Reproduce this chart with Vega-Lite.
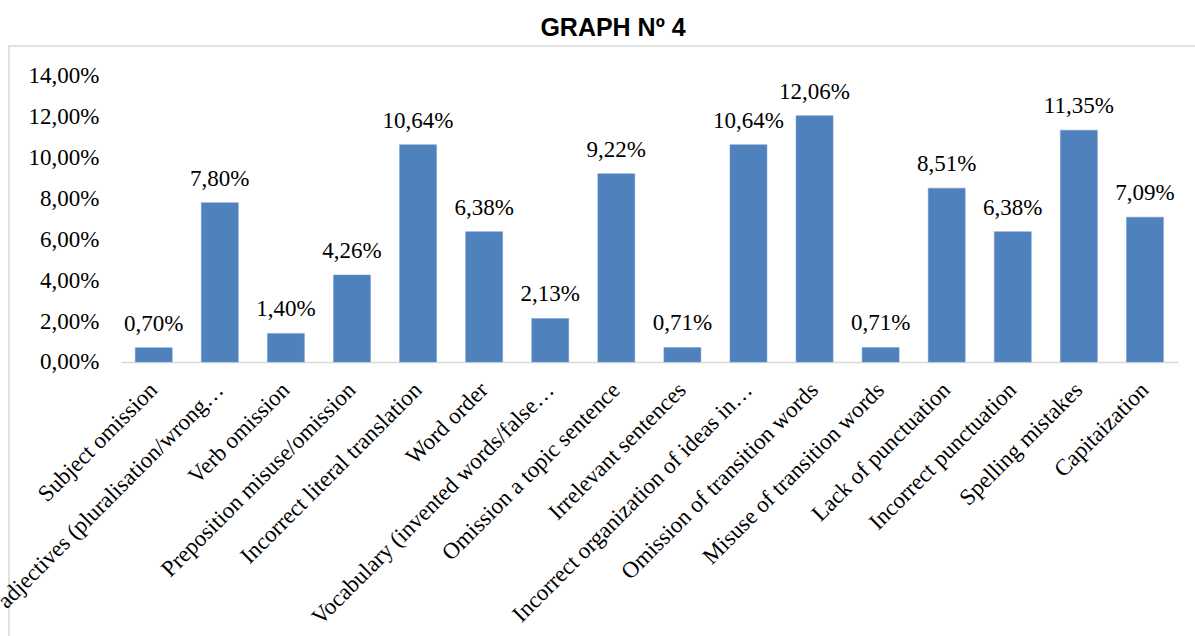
{
  "$schema": "https://vega.github.io/schema/vega-lite/v6.json",
  "autosize": {"type": "none"},
  "padding": {"left": 9, "top": 46, "right": -6, "bottom": -40},
  "width": 1192,
  "height": 630,
  "title": {
    "text": "GRAPH Nº 4",
    "font": "Liberation Sans",
    "fontSize": 25,
    "fontWeight": "bold",
    "color": "#000000",
    "anchor": "middle",
    "baseline": "alphabetic",
    "offset": -15,
    "dx": 8
  },
  "config": {
    "locale": {
      "number": {"decimal": ",", "thousands": ".", "grouping": [3], "currency": ["", " €"]}
    },
    "view": {"stroke": "#d9d9d9", "strokeWidth": 1.5},
    "font": "Liberation Serif"
  },
  "data": {
    "values": [
      {"category": "Subject omission", "share": 0.0070},
      {"category": "adjectives (pluralisation/wrong…", "share": 0.0780},
      {"category": "Verb omission", "share": 0.0140},
      {"category": "Preposition misuse/omission", "share": 0.0426},
      {"category": "Incorrect literal translation", "share": 0.1064},
      {"category": "Word order", "share": 0.0638},
      {"category": "Vocabulary (invented words/false…", "share": 0.0213},
      {"category": "Omission a topic sentence", "share": 0.0922},
      {"category": "Irrelevant sentences", "share": 0.0071},
      {"category": "Incorrect organization of ideas in…", "share": 0.1064},
      {"category": "Omission of transition words", "share": 0.1206},
      {"category": "Misuse of transition words", "share": 0.0071},
      {"category": "Lack of punctuation", "share": 0.0851},
      {"category": "Incorrect punctuation", "share": 0.0638},
      {"category": "Spelling mistakes", "share": 0.1135},
      {"category": "Capitaization", "share": 0.0709}
    ]
  },
  "encoding": {
    "x": {
      "field": "category",
      "type": "nominal",
      "sort": null,
      "title": null,
      "scale": {"paddingInner": 0.44, "range": [111.7, 1169]},
      "axis": {
        "offset": -314,
        "labelAngle": -45,
        "labelAlign": "right",
        "labelBaseline": "middle",
        "labelFont": "Liberation Serif",
        "labelFontSize": 23,
        "labelColor": "#000000",
        "labelPadding": 24,
        "labelLimit": 0,
        "ticks": false,
        "domainColor": "#d9d9d9",
        "domainWidth": 1.5
      }
    },
    "y": {
      "field": "share",
      "type": "quantitative",
      "title": null,
      "scale": {"domain": [-0.153706, 0.154685], "nice": false, "zero": false},
      "axis": {
        "offset": -111,
        "values": [0, 0.02, 0.04, 0.06, 0.08, 0.10, 0.12, 0.14],
        "format": ".2%",
        "grid": false,
        "domain": false,
        "ticks": false,
        "labelFont": "Liberation Serif",
        "labelFontSize": 23,
        "labelColor": "#000000",
        "labelPadding": 21
      }
    }
  },
  "layer": [
    {
      "mark": {"type": "bar", "color": "#4f81bd", "stroke": "#6f9ad0", "strokeWidth": 0.5}
    },
    {
      "mark": {
        "type": "text",
        "font": "Liberation Serif",
        "fontSize": 23,
        "color": "#000000",
        "baseline": "alphabetic",
        "dy": -17
      },
      "encoding": {
        "text": {"field": "share", "type": "quantitative", "format": ".2%"}
      }
    }
  ]
}
